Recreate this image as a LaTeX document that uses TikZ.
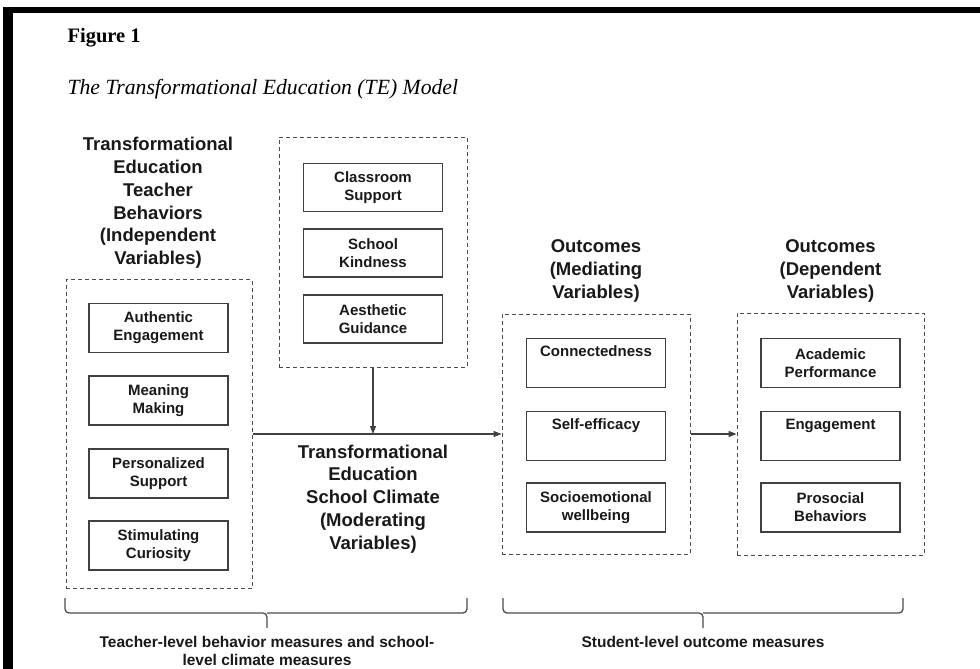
\documentclass[tikz,border=0pt]{standalone}
\usepackage{fontspec}
\setmainfont{Liberation Serif}
\newfontfamily\arialfont{Liberation Sans}
\usepackage{tikz}
\usepackage{xcolor}
\usetikzlibrary{shapes, positioning, arrows.meta}

\tikzset{
    group/.style={draw=black!70, line width=1pt, dash pattern=on 4pt off 3pt, minimum width=#1},
    measure/.style={draw=black!75, line width=1.3pt, minimum width=139pt, minimum height=49pt, align=center, text=black!90, font=\arialfont\bfseries\fontsize{15}{18}\selectfont},
    heading/.style={align=center, text=black!90, font=\arialfont\bfseries\fontsize{18.5}{22.8}\selectfont},
    level/.style={align=center, text=black!90, font=\arialfont\bfseries\fontsize{15.5}{18}\selectfont},
    link/.style={draw=black!75, line width=1.2pt, -{Triangle[length=8pt, width=6pt]}},
    bracket/.style={draw=black!70, line width=1.3pt, rounded corners=4pt}
}

\begin{document}
\begin{tikzpicture}[x=1pt, y=-1pt]
        \useasboundingbox (0, 0) rectangle (980, 669);
        \fill[black] (3, 7) rectangle (980, 13);
        \fill[black] (3, 7) rectangle (13, 669);

        \node[anchor=base west, font=\bfseries\fontsize{20.5}{24}\selectfont] (fig) at (64, 43) {Figure 1};
        \node[anchor=base west, font=\itshape\fontsize{21.7}{26}\selectfont] (title) at (64, 95) {The Transformational Education (TE) Model};

        % teacher behaviours
        \node[heading] (behavhead) at (158, 203) {Transformational\\Education\\Teacher\\Behaviors\\(Independent\\Variables)};
        \node[group=186pt, minimum height=309pt] (behav) at (159, 434) {};
        \node[measure] (ae) at (158.5, 328) {Authentic\\Engagement};
        \node[measure] (mm) at (158.5, 400.5) {Meaning\\Making};
        \node[measure] (ps) at (158.5, 473.5) {Personalized\\Support};
        \node[measure] (sc) at (158.5, 545.5) {Stimulating\\Curiosity};

        % school climate
        \node[group=188pt, minimum height=230pt] (climate) at (373, 252) {};
        \node[measure, minimum height=48pt] (cs) at (373, 187.5) {Classroom\\Support};
        \node[measure, minimum height=48pt] (sk) at (373, 253) {School\\Kindness};
        \node[measure, minimum height=48pt] (ag) at (373, 319) {Aesthetic\\Guidance};
        \node[heading] (climhead) at (373, 499) {Transformational\\Education\\School Climate\\(Moderating\\Variables)};

        % mediating outcomes
        \node[heading] (medhead) at (596, 271) {Outcomes\\(Mediating\\Variables)};
        \node[group=188pt, minimum height=240pt] (mediat) at (596, 434) {};
        \node[measure] (con) at (596, 363) {Connectedness\\\strut};
        \node[measure] (se) at (596, 436) {Self-efficacy\\\strut};
        \node[measure] (sw) at (596, 507.5) {Socioemotional\\wellbeing};

        % dependent outcomes
        \node[heading] (dephead) at (830.5, 271) {Outcomes\\(Dependent\\Variables)};
        \node[group=187pt, minimum height=242pt] (depend) at (830.5, 434) {};
        \node[measure] (ap) at (830.5, 363) {Academic\\Performance};
        \node[measure] (en) at (830.5, 436) {Engagement\\\strut};
        \node[measure] (pb) at (830.5, 507.5) {Prosocial\\Behaviors};

        \draw[link] (behav.east) -- (mediat.west);
        \draw[link] (climate.south) -- (climate.south |- behav.east);
        \draw[link] (mediat.east) -- (depend.west);

        % measure levels
        \coordinate (tip1) at (267, 628);
        \coordinate (tip2) at (703, 628);
        \draw[bracket] (65, 598) |- (267, 613) -- (tip1);
        \draw[bracket] (467, 598) |- (267, 613);
        \draw[bracket] (503, 598) |- (703, 613) -- (tip2);
        \draw[bracket] (903, 598) |- (703, 613);
        \node[level, anchor=north, yshift=-5pt] (teachlevel) at (tip1) {Teacher-level behavior measures and school-\\level climate measures};
        \node[level, anchor=north, yshift=-5pt] (studlevel) at (tip2) {Student-level outcome measures};
    \end{tikzpicture}
\end{document}
